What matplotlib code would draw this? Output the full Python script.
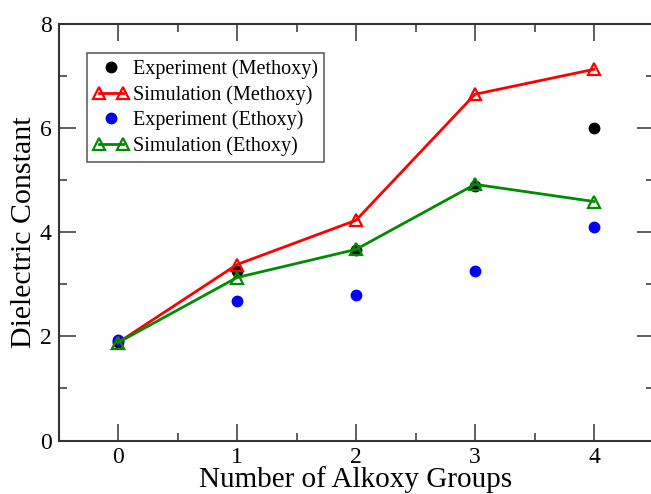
import matplotlib
matplotlib.use("Agg")
import matplotlib.pyplot as plt
from matplotlib.legend_handler import HandlerLine2D

x = [0, 1, 2, 3, 4]
exp_methoxy = [1.90, 3.26, 3.65, 4.88, 6.00]
sim_methoxy = [1.88, 3.38, 4.23, 6.65, 7.13]
exp_ethoxy = [1.93, 2.67, 2.80, 3.25, 4.10]
sim_ethoxy = [1.88, 3.13, 3.67, 4.92, 4.59]

labels = ["Experiment (Methoxy)", "Simulation (Methoxy)",
          "Experiment (Ethoxy)", "Simulation (Ethoxy)"]
x_ticks = [0, 1, 2, 3, 4]
y_ticks = [0, 2, 4, 6, 8]

plt.rcParams['font.family'] = ['Liberation Serif', 'DejaVu Serif']
plt.rcParams['mathtext.fontset'] = 'stix'

fig = plt.figure(figsize=(6.51, 4.94), dpi=100)
ax = fig.add_axes([58.5 / 651, 53.5 / 494, 595 / 651, 416.5 / 494])

green = '#008c00'
h1, = ax.plot(x, exp_methoxy, linestyle='none', marker='o', color='black',
              markersize=7.5, zorder=3, label=labels[0])
h2, = ax.plot(x, sim_methoxy, color='red', lw=2.0, marker='^', markersize=8.5,
              markerfacecolor='none', markeredgewidth=1.6, zorder=4, label=labels[1])
h3, = ax.plot(x, exp_ethoxy, linestyle='none', marker='o', color='blue',
              markersize=7.5, zorder=3, label=labels[2])
h4, = ax.plot(x, sim_ethoxy, color=green, lw=2.0, marker='^', markersize=8.5,
              markerfacecolor='none', markeredgewidth=1.6, zorder=5, label=labels[3])

ax.set_xlim(-0.5, 4.5)
ax.set_ylim(0, 8)
ax.set_xticks(x_ticks)
ax.set_yticks(y_ticks)
ax.set_xticks([0.5, 1.5, 2.5, 3.5], minor=True)
ax.set_yticks([1, 3, 5, 7], minor=True)
ax.tick_params(which='both', direction='in', top=True, right=True,
               labelsize=17, color='#333333', width=1.1)
ax.tick_params(which='major', length=12, pad=5)
ax.tick_params(which='minor', length=6)
for s in ax.spines.values():
    s.set_linewidth(1.5)
    s.set_color('#333333')

ax.set_xlabel("Number of Alkoxy Groups", fontsize=21, labelpad=-1.5)
ax.set_ylabel("Dielectric Constant", fontsize=21.5, labelpad=2)

leg = ax.legend(handles=[h1, h2, h3, h4], loc='upper left',
                bbox_to_anchor=(0.048, 0.93), borderaxespad=0,
                fontsize=14.5, numpoints=2, handlelength=1.8,
                handletextpad=0.2, labelspacing=0.3, borderpad=0.3,
                fancybox=False, framealpha=1,
                handler_map={h1: HandlerLine2D(numpoints=1),
                             h3: HandlerLine2D(numpoints=1)})
leg.get_frame().set_edgecolor('#555555')
leg.get_frame().set_linewidth(1.1)

fig.savefig("out.png", dpi=100)
